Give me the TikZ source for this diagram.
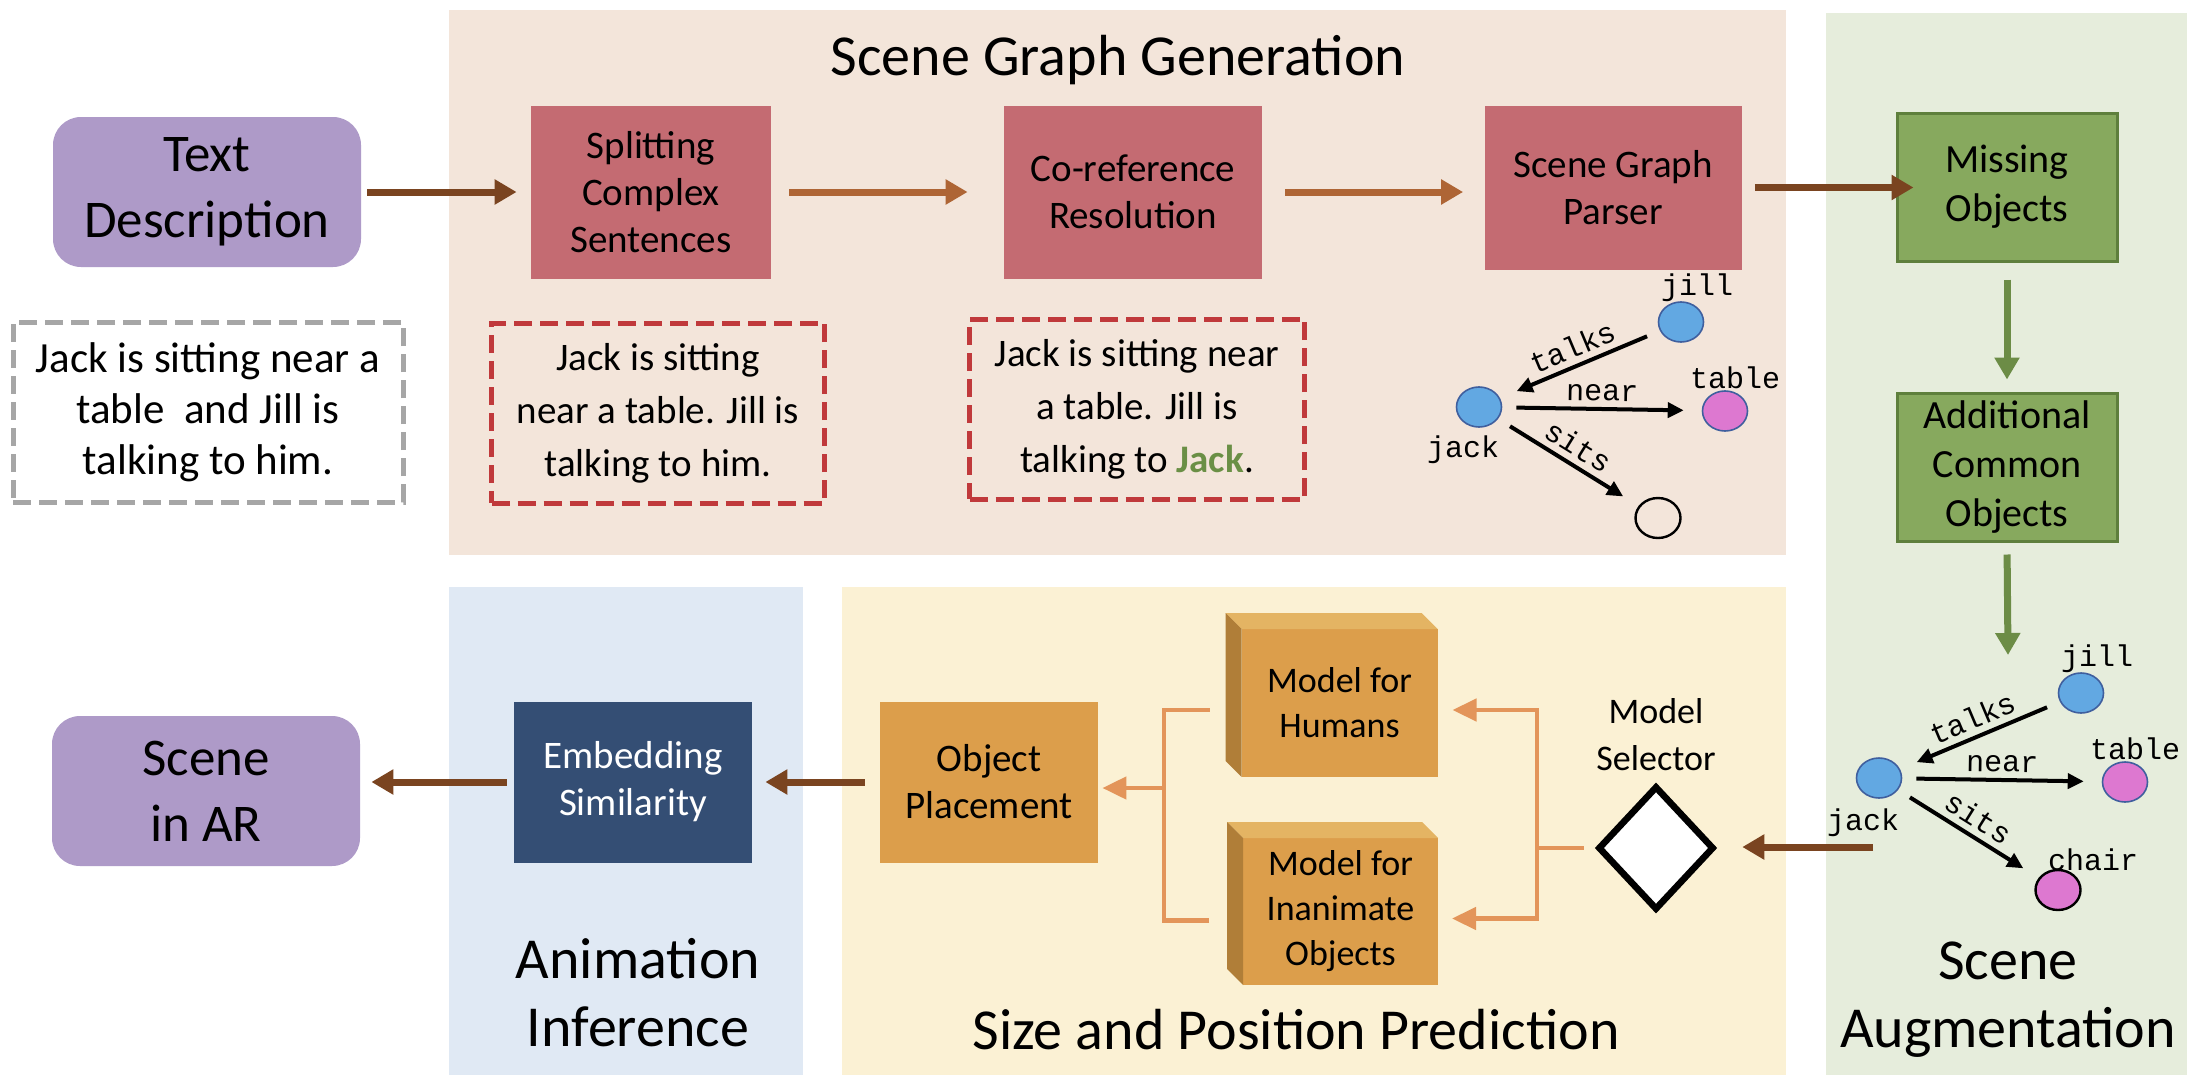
\documentclass[tikz,border=0pt]{standalone}
\usepackage{fontspec}
\setmainfont{Carlito}
\newfontfamily\graphfont{Liberation Mono}
\usetikzlibrary{arrows.meta,shapes.geometric,positioning}

\definecolor{genpanel}{RGB}{243,229,218}
\definecolor{augpanel}{RGB}{230,237,220}
\definecolor{anipanel}{RGB}{224,233,244}
\definecolor{sizepanel}{RGB}{251,241,212}
\definecolor{lilac}{RGB}{174,154,200}
\definecolor{rosebox}{RGB}{196,107,114}
\definecolor{dashred}{RGB}{192,57,59}
\definecolor{dashgray}{RGB}{166,166,166}
\definecolor{leaf}{RGB}{135,169,94}
\definecolor{leafdark}{RGB}{94,127,60}
\definecolor{leafarrow}{RGB}{108,140,70}
\definecolor{jackgreen}{RGB}{106,143,69}
\definecolor{navy}{RGB}{52,78,116}
\definecolor{amber}{RGB}{220,158,75}
\definecolor{amberlight}{RGB}{228,180,99}
\definecolor{amberdark}{RGB}{176,126,56}
\definecolor{coral}{RGB}{227,149,90}
\definecolor{brownarrow}{RGB}{122,68,32}
\definecolor{rustarrow}{RGB}{174,101,53}
\definecolor{objblue}{RGB}{98,168,226}
\definecolor{objedge}{RGB}{63,95,158}
\definecolor{objpink}{RGB}{221,120,208}

\tikzset{
  sinktext/.style={execute at begin node={\rule{0pt}{#1}}},
  paneltitle/.style={font=\fontsize{29}{34}\selectfont, align=center, inner sep=0pt},
  endbox/.style={rectangle, rounded corners=14pt, fill=lilac, minimum width=154pt, minimum height=75pt, align=center, font=\fontsize{26.5}{33}\selectfont},
  stagebox/.style={rectangle, fill=rosebox, minimum width=120pt, minimum height=86.5pt, align=center, font=\fontsize{19.5}{23.5}\selectfont},
  augbox/.style={rectangle, fill=leaf, draw=leafdark, line width=1.5pt, minimum width=110pt, minimum height=74pt, align=center, font=\fontsize{20}{24.5}\selectfont, sinktext=18pt},
  samplebox/.style={rectangle, dash pattern=on 9pt off 4pt, line width=2.5pt, minimum height=90pt, align=center, font=\fontsize{19.5}{26.5}\selectfont},
  modelbox/.style={rectangle, fill=amber, minimum width=98pt, minimum height=74pt, outer sep=0pt, align=center, font=\fontsize{18}{22.5}\selectfont},
  person/.style={ellipse, fill=objblue, draw=objedge, line width=0.8pt, minimum width=22.5pt, minimum height=20pt, inner sep=0pt},
  thing/.style={person, fill=objpink},
  blankobj/.style={person, fill=none, draw=black, line width=1.2pt},
  objlabel/.style={font=\graphfont\fontsize{15}{15}\selectfont, inner sep=0pt},
  relation/.style={-{Triangle[length=8pt,width=7.5pt]}, line width=2pt, shorten <=7pt, shorten >=9pt},
  rellabel/.style={font=\graphfont\fontsize{15}{15}\selectfont, sloped, above=1.5pt, inner sep=1.5pt},
  flowarrow/.style={-{Triangle[length=11pt,width=12pt]}, line width=3.5pt},
  coralline/.style={draw=coral, line width=2.25pt},
  coralarrow/.style={coralline, -{Triangle[length=12pt,width=11pt]}},
}

\begin{document}
\begin{tikzpicture}[x=0.5pt,y=-0.5pt]

  \fill[white] (0,0) rectangle (2196,1082);
  \useasboundingbox (0,0) rectangle (2196,1082);

  % panels
  \fill[genpanel] (449,10) rectangle (1786,555);
  \fill[augpanel] (1826,13) rectangle (2187,1075);
  \fill[anipanel] (449,587) rectangle (803,1075);
  \fill[sizepanel] (842,587) rectangle (1786,1075);

  \node (gentitle) [paneltitle, anchor=base] at (1118,75) {Scene Graph Generation};
  \node (anititle) [paneltitle] at (638,993) {Animation\\Inference};
  \node (sizetitle) [paneltitle, anchor=base] at (1296,1049) {Size and Position Prediction};
  \node (augtitle) [paneltitle] at (2008,1000) {Scene\\Augmentation};

  % top row
  \node (text) [endbox, sinktext=22pt] at (207,192) {Text\\Description};
  \node (split) [stagebox, right of=text, node distance=222pt] {Splitting\\Complex\\Sentences};
  \node (coref) [stagebox, minimum width=129pt, right of=split, node distance=241pt] {Co-reference\\Resolution};
  \node (parser) [stagebox, minimum width=128.5pt, minimum height=82pt, right of=coref, node distance=240pt, yshift=2.25pt] {Scene Graph\\Parser};

  \node (missing) [augbox] at (2007,187) {Missing\\Objects};
  \node (common) [augbox, below of=missing, node distance=140pt] {Additional\\Common\\Objects};

  \node (input) [samplebox, draw=dashgray, minimum width=195pt, font=\fontsize{21.5}{25.5}\selectfont, sinktext=21pt] at (208,412) {Jack is sitting near a\\table\ \ and Jill is\\talking to him.};
  \node (splitout) [samplebox, draw=dashred, minimum width=166.5pt, sinktext=19pt] at (658,413) {Jack is sitting\\near a table. Jill is\\talking to him.};
  \node (corefout) [samplebox, draw=dashred, minimum width=167.5pt, sinktext=19.5pt] at (1137,409) {Jack is sitting near\\a table. Jill is\\talking to {\bfseries\color{jackgreen}Jack}.};

  % parsed graph
  \node (jack) [person] at (1479,407) {};
  \node (jill) [person] at ([shift={(202,-85)}]jack) {};
  \node (table) [thing] at ([shift={(246,4)}]jack) {};
  \node (seat) [blankobj] at ([shift={(179,111)}]jack) {};
  \node (jacktag) [objlabel] at ([shift={(-16,43)}]jack) {jack};
  \node (jilltag) [objlabel] at ([shift={(16,-34)}]jill) {jill};
  \node (tabletag) [objlabel] at ([shift={(10,-33)}]table) {table};
  \draw[relation] (jill) -- node[rellabel] {talks} (jack);
  \draw[relation] (jack) -- node[rellabel] {near} (table);
  \draw[relation] (jack) -- node[rellabel] {sits} (seat);

  % augmented graph
  \node (jackB) [person] at (1879,778) {};
  \node (jillB) [person] at ([shift={(202,-85)}]jackB) {};
  \node (tableB) [thing] at ([shift={(246,4)}]jackB) {};
  \node (chairB) [thing, draw=black, line width=1.2pt] at ([shift={(179,112)}]jackB) {};
  \node (jackBtag) [objlabel] at ([shift={(-16,45)}]jackB) {jack};
  \node (jillBtag) [objlabel] at ([shift={(16,-34)}]jillB) {jill};
  \node (tableBtag) [objlabel] at ([shift={(10,-33)}]tableB) {table};
  \node (chairBtag) [objlabel] at ([shift={(35,-30)}]chairB) {chair};
  \draw[relation] (jillB) -- node[rellabel] {talks} (jackB);
  \draw[relation] (jackB) -- node[rellabel] {near} (tableB);
  \draw[relation] (jackB) -- node[rellabel] {sits} (chairB);

  % bottom row
  \node (ar) [endbox] at (206,791) {Scene\\in AR};
  \node (embed) [stagebox, fill=navy, text=white, minimum width=119pt, minimum height=80.5pt, sinktext=18.5pt] at (633,782) {Embedding\\Similarity};
  \node (place) [stagebox, fill=amber, minimum width=109pt, minimum height=80.5pt, right of=embed, node distance=178pt] {Object\\Placement};

  \node (hum) [modelbox, sinktext=15pt] at (1339.5,703) {Model for\\Humans};
  \fill[amberlight] (hum.north west) -- (hum.north east) -- ([shift={(-16,-16)}]hum.north east) -- ([shift={(-16,-16)}]hum.north west) -- cycle;
  \fill[amberdark] (hum.north west) -- (hum.south west) -- ([shift={(-16,-16)}]hum.south west) -- ([shift={(-16,-16)}]hum.north west) -- cycle;
  \node (inan) [modelbox, minimum width=97.5pt, minimum height=73.5pt, sinktext=17.5pt] at (1340.5,911.5) {Model for\\Inanimate\\Objects};
  \fill[amberlight] (inan.north west) -- (inan.north east) -- ([shift={(-16,-16)}]inan.north east) -- ([shift={(-16,-16)}]inan.north west) -- cycle;
  \fill[amberdark] (inan.north west) -- (inan.south west) -- ([shift={(-16,-16)}]inan.south west) -- ([shift={(-16,-16)}]inan.north west) -- cycle;

  \node (sel) [diamond, draw=black, fill=white, line width=3.3pt, minimum width=58pt, minimum height=62pt, inner sep=0pt] at (1656,848) {};
  \node (seltext) [above of=sel, node distance=56.5pt, align=center, font=\fontsize{18}{23.5}\selectfont] {Model\\Selector};

  \coordinate (forkR) at (1537,848);
  \coordinate (forkL) at (1164,788);
  \coordinate (augin) at (2008,655);
  \coordinate (augout) at (1873,847);

  % connectors
  \draw[flowarrow, brownarrow, shorten <=3pt, shorten >=7pt] (text.east) -- (text.east -| split.west);
  \draw[flowarrow, rustarrow, shorten <=9pt, shorten >=18pt] (split.east) -- (split.east -| coref.west);
  \draw[flowarrow, rustarrow, shorten <=11.5pt, shorten >=10.5pt] (coref.east) -- (coref.east -| parser.west);
  \draw[flowarrow, brownarrow, shorten <=6.5pt, shorten >=-9pt] (parser.east) -- (parser.east -| missing.west);
  \draw[flowarrow, leafarrow, shorten <=8.5pt, shorten >=6pt] (missing.south) -- (missing.south |- common.north);
  \draw[flowarrow, leafarrow, shorten <=6pt] (common.south) -- (augin);
  \draw[flowarrow, brownarrow, shorten >=12.5pt] (augout) -- (augout -| sel.east);

  \draw[coralline, shorten <=5.5pt] (sel.west) -- (forkR);
  \draw[coralarrow] (forkR) |- ([shift={(15,7)}]hum.east);
  \draw[coralarrow] (forkR) |- ([shift={(14,7)}]inan.east);
  \draw[coralline] ([shift={(-32,7)}]hum.west) -| (forkL);
  \draw[coralline] ([shift={(-34,9)}]inan.west) -| (forkL);
  \draw[coralarrow] (forkL) -- ([xshift=2pt]forkL -| place.east);

  \draw[flowarrow, brownarrow, shorten <=7.5pt, shorten >=6.5pt] (place.west) -- (place.west -| embed.east);
  \draw[flowarrow, brownarrow, shorten <=3.5pt, shorten >=5.5pt] (embed.west) -- (embed.west -| ar.east);

\end{tikzpicture}
\end{document}
